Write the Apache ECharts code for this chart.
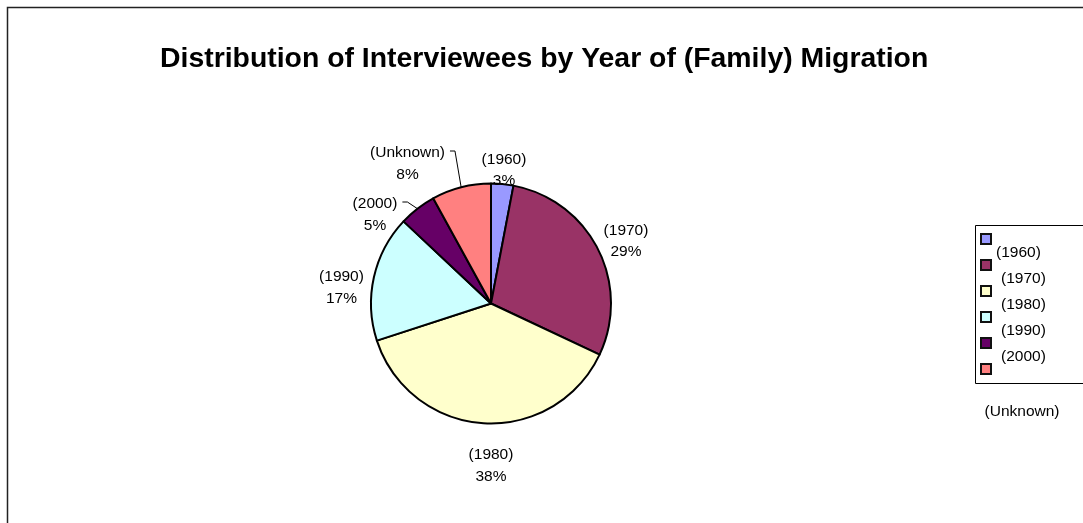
<!DOCTYPE html>
<html>
<head>
<meta charset="utf-8">
<script src="https://cdn.jsdelivr.net/npm/echarts@6/dist/echarts.min.js"></script>
<style>
  html, body { margin: 0; padding: 0; background: #fff; }
  #chart { width: 1083px; height: 523px; }
</style>
</head>
<body>
<div id="chart"></div>
<script>
// Interviewees by decade of (family) migration, in percent
const categories = ['(1960)', '(1970)', '(1980)', '(1990)', '(2000)', '(Unknown)'];
const shares = [3, 29, 38, 17, 5, 8];
const sliceColors = ['#9999FF', '#993366', '#FFFFCC', '#CCFFFF', '#660066', '#FF8080'];
// slices whose label is tied to the pie with a short leader line
const leaderLabels = ['(2000)', '(Unknown)'];

const FONT = '"Liberation Sans", Arial, Helvetica, sans-serif';
const pieCenter = [491, 303.5];
const pieRadius = 120;
// centre of each label block, relative to the pie centre
const labelSpots = [[13, -133.5], [135, -62.5], [0, 162], [-149.5, -16], [-116, -89], [-83.5, -140]];

const total = shares.reduce((a, b) => a + b, 0);

// point on the rim at the middle of slice i (clockwise from 12 o'clock)
function rimPoint(i) {
  let before = 0;
  for (let k = 0; k < i; k++) before += shares[k];
  const a = ((before + shares[i] / 2) / total) * Math.PI * 2;
  return [pieCenter[0] + pieRadius * Math.sin(a), pieCenter[1] - pieRadius * Math.cos(a)];
}

const pieData = categories.map((name, i) => ({
  name: name,
  value: shares[i],
  itemStyle: { color: sliceColors[i] },
  labelLine: { show: leaderLabels.indexOf(name) >= 0 }
}));

// legend: framed column of swatches with the names set half a row lower
const legendGraphics = [{
  type: 'rect',
  z: 10,
  shape: { x: 975.5, y: 225.5, width: 130, height: 158 },
  style: { fill: '#fff', stroke: '#000', lineWidth: 1 }
}];
categories.forEach((name, i) => {
  const last = i === categories.length - 1;
  legendGraphics.push({
    type: 'rect',
    z: 11,
    shape: { x: 981, y: 234 + 26 * i, width: 10, height: 10 },
    style: { fill: sliceColors[i], stroke: '#111', lineWidth: 2 }
  });
  legendGraphics.push({
    type: 'text',
    z: 11,
    x: last ? 1022 : (i === 0 ? 996 : 1001),
    y: last ? 412 : 253 + 26 * i,
    style: {
      text: name,
      fontSize: 15.5,
      fontFamily: FONT,
      fill: '#000',
      align: last ? 'center' : 'left',
      verticalAlign: 'middle'
    }
  });
});

const chart = echarts.init(document.getElementById('chart'), null, { renderer: 'canvas' });
chart.setOption({
  animation: false,
  backgroundColor: '#fff',
  title: {
    text: 'Distribution of Interviewees by Year of (Family) Migration',
    left: 160,
    top: 45,
    padding: 0,
    textStyle: { fontSize: 28.4, fontWeight: 'bold', fontFamily: FONT, color: '#000' }
  },
  graphic: [{
    type: 'rect',
    z: 0,
    shape: { x: 7.5, y: 7.5, width: 1200, height: 600 },
    style: { fill: 'none', stroke: '#222', lineWidth: 1.5 }
  }].concat(legendGraphics),
  series: [{
    type: 'pie',
    center: pieCenter,
    radius: pieRadius,
    startAngle: 90,
    clockwise: true,
    avoidLabelOverlap: false,
    emphasis: { disabled: true },
    itemStyle: { borderColor: '#000', borderWidth: 2 },
    label: {
      show: true,
      position: 'outside',
      color: '#000',
      fontSize: 15.5,
      fontFamily: FONT,
      lineHeight: 21.5,
      formatter: p => p.name + '\n' + Math.round(p.percent) + '%'
    },
    labelLine: { show: false, lineStyle: { color: '#000', width: 1 } },
    labelLayout: function (p) {
      const i = p.dataIndex;
      const cx = pieCenter[0] + labelSpots[i][0];
      const cy = pieCenter[1] + labelSpots[i][1];
      const out = { x: cx, y: cy, align: 'center', verticalAlign: 'middle' };
      if (leaderLabels.indexOf(categories[i]) >= 0) {
        const right = cx + p.labelRect.width / 2;
        const ly = cy - 12.5;
        out.labelLinePoints = [rimPoint(i), [right + 10, ly], [right + 5, ly]];
      }
      return out;
    },
    data: pieData
  }]
});
</script>
</body>
</html>
